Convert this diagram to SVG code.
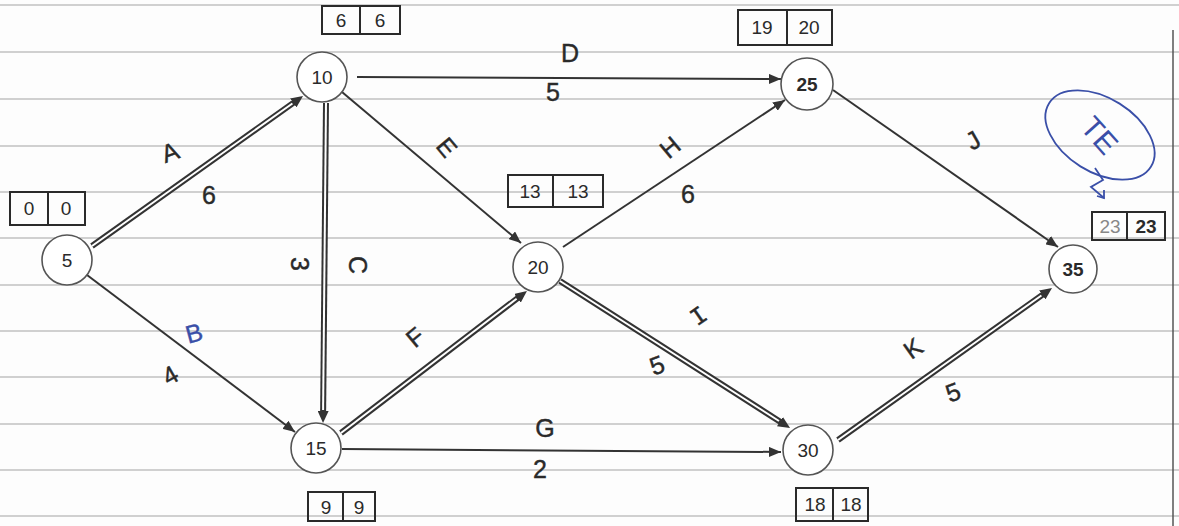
<svg xmlns="http://www.w3.org/2000/svg" width="1179" height="526" viewBox="0 0 1179 526">
<defs>
<marker id="arr" markerUnits="userSpaceOnUse" markerWidth="13" markerHeight="10" refX="12" refY="5" orient="auto"><path d="M0,0 L12,5 L0,10 z" fill="#333"/></marker>
<marker id="arrD" markerUnits="userSpaceOnUse" markerWidth="13" markerHeight="11" refX="4" refY="5.5" orient="auto"><path d="M0,0 L12,5.5 L0,11 z" fill="#333"/></marker>
<style>
.rule{stroke:#c0c0c0;stroke-width:1.3}
.node circle{fill:#fff;stroke:#555;stroke-width:1.6}
.node text{font-family:"Liberation Sans",Arial,sans-serif;font-size:19px;fill:#2a2a2a;text-anchor:middle}
.box rect{fill:none;stroke:#2a2a2a;stroke-width:2}
.box line{stroke:#2a2a2a;stroke-width:2}
.box text{font-family:"Liberation Sans",Arial,sans-serif;font-size:19px;fill:#2a2a2a;text-anchor:middle}
.s{stroke:#333;stroke-width:2;fill:none;marker-end:url(#arr)}
.dd{stroke:#333;stroke-width:6;fill:none;marker-end:url(#arrD)}
.dw{stroke:#fff;stroke-width:2;fill:none}
.lbl{font-family:"Liberation Sans",Arial,sans-serif;font-size:25px;fill:#2a2a2a;text-anchor:middle;stroke:#2a2a2a;stroke-width:0.4}
.mono{font-family:"Liberation Mono","Courier New",monospace}
.blue{fill:none;stroke:#3a4fa8;stroke-width:1.8}
</style>
</defs>
<rect width="1179" height="526" fill="#fdfdfd"/>
<g id="paper">
<line class="rule" x1="0" y1="5" x2="1179" y2="5"/>
<line class="rule" x1="0" y1="52" x2="1179" y2="52"/>
<line class="rule" x1="0" y1="99" x2="1179" y2="99"/>
<line class="rule" x1="0" y1="146" x2="1179" y2="146"/>
<line class="rule" x1="0" y1="192" x2="1179" y2="192"/>
<line class="rule" x1="0" y1="238" x2="1179" y2="238"/>
<line class="rule" x1="0" y1="285" x2="1179" y2="285"/>
<line class="rule" x1="0" y1="331" x2="1179" y2="331"/>
<line class="rule" x1="0" y1="377" x2="1179" y2="377"/>
<line class="rule" x1="0" y1="424" x2="1179" y2="424"/>
<line class="rule" x1="0" y1="470" x2="1179" y2="470"/>
<line class="rule" x1="0" y1="516" x2="1179" y2="516"/>
<line x1="1173" y1="30" x2="1173" y2="526" stroke="#555" stroke-width="1.5"/>
</g>
<g id="connectors">
<line class="dd" x1="92" y1="246" x2="296.5" y2="100.6"/>
<line class="dw" x1="92" y1="246" x2="292.4" y2="103.5"/>
<line class="s" x1="87" y1="275" x2="295" y2="432"/>
<line class="dd" x1="326" y1="103" x2="323.1" y2="415"/>
<line class="dw" x1="326" y1="103" x2="323.1" y2="410"/>
<line class="s" x1="357" y1="77" x2="781" y2="79"/>
<line class="s" x1="342" y1="92" x2="521" y2="243"/>
<line class="dd" x1="341" y1="433" x2="520.6" y2="295.8"/>
<line class="dw" x1="341" y1="433" x2="516.6" y2="298.8"/>
<line class="s" x1="342" y1="449" x2="781" y2="452"/>
<line class="s" x1="563" y1="247" x2="785" y2="100"/>
<line class="dd" x1="560" y1="281" x2="783.3" y2="423.7"/>
<line class="dw" x1="560" y1="281" x2="779" y2="421"/>
<line class="s" x1="833" y1="90" x2="1058" y2="247" stroke-width="2.6"/>
<line class="dd" x1="838" y1="440" x2="1045.5" y2="292.6"/>
<line class="dw" x1="838" y1="440" x2="1041.4" y2="295.5"/>
</g>
<g id="edge-labels">
<text class="lbl" x="170" y="161" transform="rotate(-20 170 152)">A</text>
<text class="lbl" x="209" y="204">6</text>
<text class="lbl" x="194" y="342" style="fill:#3a4fa8;stroke:#3a4fa8" transform="rotate(-15 194 333)">B</text>
<text class="lbl" x="170" y="384" transform="rotate(-30 170 375)">4</text>
<text class="lbl" x="300" y="273" transform="rotate(90 300 264)">3</text>
<text class="lbl" x="358" y="274" transform="rotate(90 358 265)">C</text>
<text class="lbl" x="570" y="62">D</text>
<text class="lbl" x="553" y="101">5</text>
<text class="lbl" x="447" y="156" transform="rotate(50 447 147)">E</text>
<text class="lbl" x="670" y="156" transform="rotate(-40 670 147)">H</text>
<text class="lbl" x="688" y="203">6</text>
<text class="lbl" x="973" y="149" transform="rotate(-30 973 140)">J</text>
<text class="lbl" x="415" y="346" transform="rotate(-40 415 337)">F</text>
<text class="lbl mono" x="698" y="324" transform="rotate(-35 698 315)">I</text>
<text class="lbl" x="657" y="374" transform="rotate(-20 657 365)">5</text>
<text class="lbl" x="545" y="437">G</text>
<text class="lbl" x="540" y="478">2</text>
<text class="lbl" x="913" y="357" transform="rotate(-35 913 348)">K</text>
<text class="lbl" x="953" y="401" transform="rotate(-20 953 392)">5</text>
</g>
<g id="node-5" class="node"><circle cx="67" cy="260" r="25"/><text x="67" y="267">5</text></g>
<g id="node-10" class="node"><circle cx="322" cy="77" r="25"/><text x="322" y="84">10</text></g>
<g id="node-15" class="node"><circle cx="316" cy="448" r="25"/><text x="316" y="455">15</text></g>
<g id="node-20" class="node"><circle cx="538" cy="267" r="25"/><text x="538" y="274">20</text></g>
<g id="node-25" class="node"><circle cx="807" cy="84" r="26"/><text x="807" y="91" font-weight="bold">25</text></g>
<g id="node-30" class="node"><circle cx="808" cy="450" r="25"/><text x="808" y="457">30</text></g>
<g id="node-35" class="node"><circle cx="1073" cy="269" r="24"/><text x="1073" y="276" font-weight="bold">35</text></g>
<g id="box-5" class="box"><rect x="10" y="192" width="75" height="33"/><line x1="48" y1="192" x2="48" y2="225"/><text x="29" y="215">0</text><text x="66" y="215">0</text></g>
<g id="box-10" class="box"><rect x="322" y="6" width="78" height="28"/><line x1="360" y1="6" x2="360" y2="34"/><text x="341" y="27">6</text><text x="380" y="27">6</text></g>
<g id="box-25" class="box"><rect x="738" y="10" width="94" height="35"/><line x1="787" y1="10" x2="787" y2="45"/><text x="762" y="34">19</text><text x="809" y="34">20</text></g>
<g id="box-20" class="box"><rect x="508" y="175" width="95" height="32"/><line x1="553" y1="175" x2="553" y2="207"/><text x="530" y="198">13</text><text x="578" y="198">13</text></g>
<g id="box-35" class="box"><rect x="1092" y="212" width="73" height="28"/><line x1="1127" y1="212" x2="1127" y2="240"/><text x="1110" y="233" style="fill:#888">23</text><text x="1146" y="233" font-weight="bold">23</text></g>
<g id="box-15" class="box"><rect x="308" y="492" width="67" height="29"/><line x1="343" y1="492" x2="343" y2="521"/><text x="326" y="514">9</text><text x="359" y="514">9</text></g>
<g id="box-30" class="box"><rect x="796" y="488" width="72" height="33"/><line x1="833" y1="488" x2="833" y2="521"/><text x="815" y="511">18</text><text x="851" y="511">18</text></g>
<g id="te-note">
<ellipse class="blue" cx="1100" cy="135" rx="60" ry="37" transform="rotate(32 1100 135)"/>
<text x="1100" y="146" transform="rotate(48 1100 135)" style="font-family:'Liberation Sans',Arial,sans-serif;font-size:30px;fill:#3a4fa8;text-anchor:middle">TE</text>
<polyline class="blue" points="1095,168 1103,180 1091,187 1104,198"/>
<polyline class="blue" points="1097,196 1104,198 1104,190"/>
</g>
</svg>
